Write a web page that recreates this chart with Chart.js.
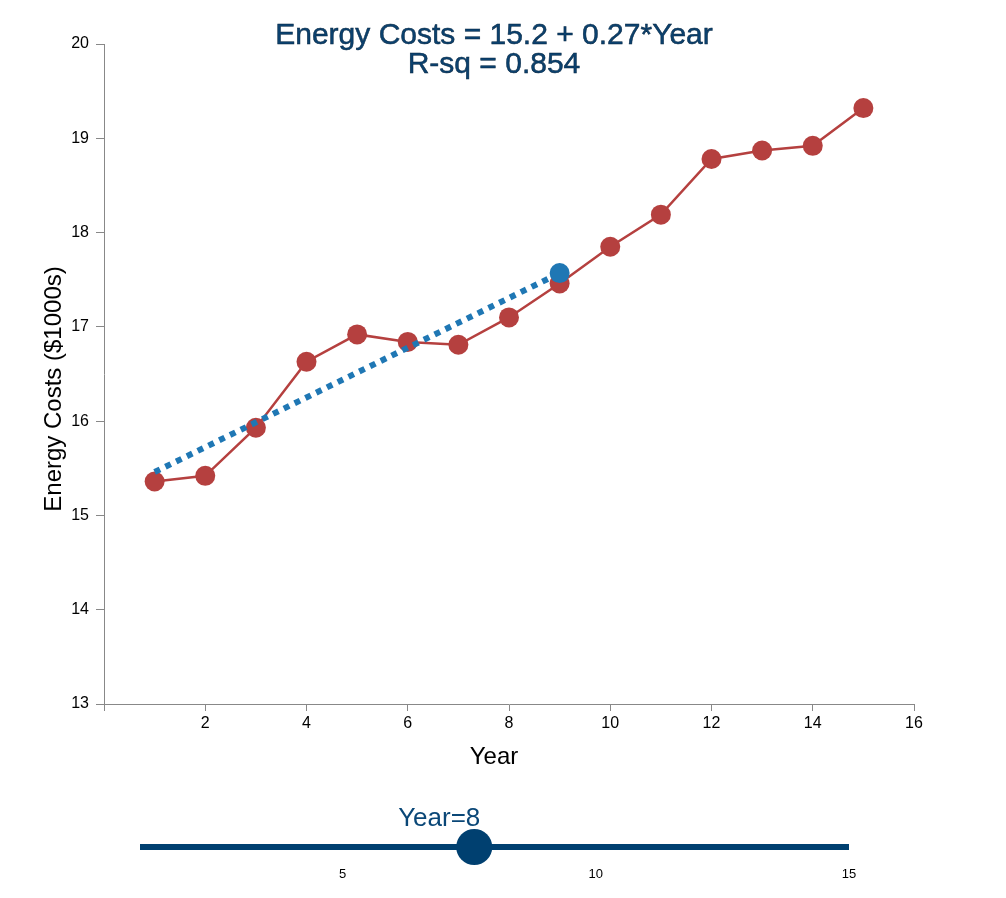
<!DOCTYPE html>
<html><head><meta charset="utf-8">
<script src="https://cdn.jsdelivr.net/npm/chart.js@4"></script>
<style>
body{margin:0;background:#fff;width:1006px;height:898px;position:relative;overflow:hidden}
#main{position:absolute;left:0;top:0}
#slider{position:absolute;left:0;top:800px}
</style></head><body>
<canvas id="main" width="1006" height="790"></canvas>
<canvas id="slider" width="1006" height="98"></canvas>
<script>
const years = [1, 2, 3, 4, 5, 6, 7, 8, 9, 10, 11, 12, 13, 14, 15];
const costs = [15.36, 15.42, 15.93, 16.63, 16.92, 16.84, 16.81, 17.10, 17.46, 17.85, 18.19, 18.78, 18.87, 18.92, 19.32];
const fitX = [1, 9];
const fitY = [15.46, 17.57];
const xTicks = [0, 2, 4, 6, 8, 10, 12, 14, 16];
const yTicks = [13, 14, 15, 16, 17, 18, 19, 20];
const titleLines = ['Energy Costs = 15.2 + 0.27*Year', 'R-sq = 0.854'];
const xTitle = 'Year';
const yTitle = 'Energy Costs ($1000s)';
const sliderMin = 1, sliderMax = 15;
const sliderTicks = [5, 10, 15];
const sliderValue = 7.6;
const sliderLabel = 'Year=8';

const FAM = '"Liberation Sans", Arial, Helvetica, sans-serif';
const RED = '#b5403f';
const BLUE = '#1f77b4';
const NAVY = '#004070';
const AXIS = '#888888';

const textPlugin = {
  id: 'texts',
  afterDraw(chart) {
    const ctx = chart.ctx;
    ctx.save();
    ctx.textAlign = 'center';
    ctx.textBaseline = 'alphabetic';
    ctx.font = '30px ' + FAM;
    ctx.fillStyle = '#0b416e';
    ctx.strokeStyle = '#072640';
    ctx.lineWidth = 0.5;
    titleLines.forEach((t, i) => {
      const y = 44 + i * 29;
      ctx.fillText(t, 494, y);
      ctx.strokeText(t, 494, y);
    });
    ctx.fillStyle = '#000';
    ctx.font = '24px ' + FAM;
    ctx.fillText(xTitle, 494, 764);
    ctx.translate(61, 389);
    ctx.rotate(-Math.PI / 2);
    ctx.fillText(yTitle, 0, 0);
    ctx.restore();
  }
};

new Chart(document.getElementById('main'), {
  type: 'scatter',
  data: {
    datasets: [
      {
        label: 'fit',
        data: fitX.map((x, i) => ({ x: x, y: fitY[i] })),
        showLine: true,
        borderColor: BLUE,
        borderWidth: 6,
        borderDash: [6, 6],
        borderCapStyle: 'butt',
        pointRadius: [0, 10],
        pointBackgroundColor: BLUE,
        pointBorderWidth: 0,
        order: 0
      },
      {
        label: 'costs',
        data: years.map((x, i) => ({ x: x, y: costs[i] })),
        showLine: true,
        borderColor: RED,
        borderWidth: 2.5,
        pointRadius: 10,
        pointBackgroundColor: RED,
        pointBorderColor: RED,
        pointBorderWidth: 0,
        order: 1
      }
    ]
  },
  options: {
    responsive: false,
    animation: false,
    layout: { padding: { top: 44, right: 92, left: 0, bottom: 0 } },
    plugins: { legend: { display: false }, tooltip: { enabled: false }, title: { display: false } },
    scales: {
      x: {
        type: 'linear', min: 0, max: 16,
        afterFit(s) { s.height = 86; },
        afterBuildTicks(s) { s.ticks = xTicks.map(v => ({ value: v })); },
        ticks: { callback: v => (v === 0 ? '' : v), color: '#000', font: { size: 16, family: FAM }, padding: 3, maxRotation: 0, autoSkip: false },
        grid: { display: true, drawOnChartArea: false, drawTicks: true, tickLength: 7, color: AXIS, tickColor: AXIS },
        border: { display: true, color: AXIS, width: 1 }
      },
      y: {
        type: 'linear', min: 13, max: 20,
        afterFit(s) { s.width = 104; },
        afterBuildTicks(s) { s.ticks = yTicks.map(v => ({ value: v })); },
        ticks: { color: '#000', font: { size: 16, family: FAM }, padding: 7, autoSkip: false },
        grid: { display: true, drawOnChartArea: false, drawTicks: true, tickLength: 8, color: AXIS, tickColor: AXIS },
        border: { display: true, color: AXIS, width: 1 }
      }
    }
  },
  plugins: [textPlugin]
});

const sliderLabelPlugin = {
  id: 'sliderLabel',
  afterDraw(chart) {
    const ctx = chart.ctx;
    const px = chart.scales.x.getPixelForValue(sliderValue);
    ctx.save();
    ctx.font = '26px ' + FAM;
    ctx.fillStyle = '#0a4777';
    ctx.textAlign = 'center';
    ctx.textBaseline = 'alphabetic';
    ctx.fillText(sliderLabel, px - 35, 26);
    ctx.restore();
  }
};

new Chart(document.getElementById('slider'), {
  type: 'scatter',
  data: {
    datasets: [
      {
        data: [{ x: sliderMin, y: 0 }, { x: sliderMax, y: 0 }],
        showLine: true, borderColor: NAVY, borderWidth: 6, borderCapStyle: 'butt',
        pointRadius: 0, clip: false, order: 1
      },
      {
        data: [{ x: sliderValue, y: 0 }],
        pointRadius: 18, pointBackgroundColor: NAVY, pointBorderWidth: 0,
        clip: false, order: 0
      }
    ]
  },
  options: {
    responsive: false,
    animation: false,
    layout: { padding: { left: 140, right: 157, top: 29, bottom: 0 } },
    plugins: { legend: { display: false }, tooltip: { enabled: false } },
    scales: {
      x: {
        type: 'linear', min: sliderMin, max: sliderMax,
        afterBuildTicks(s) { s.ticks = sliderTicks.map(v => ({ value: v })); },
        afterFit(s) { s.height = 33; },
        grid: { display: false, drawTicks: false },
        border: { display: false },
        ticks: { color: '#000', font: { size: 13, family: FAM }, padding: 2, maxRotation: 0, autoSkip: false }
      },
      y: { display: false, min: -1, max: 1 }
    }
  },
  plugins: [sliderLabelPlugin]
});
</script>
</body></html>
